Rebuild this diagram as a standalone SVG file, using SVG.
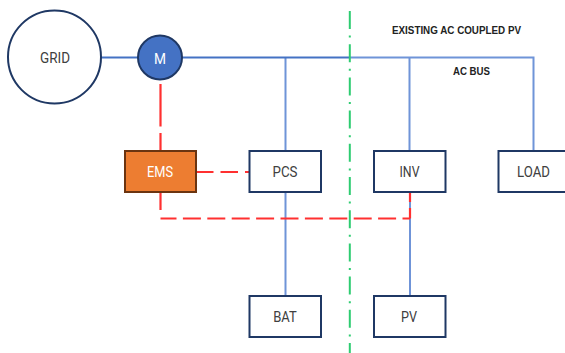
<svg xmlns="http://www.w3.org/2000/svg" width="565" height="353" viewBox="0 0 565 353">
<style>
text{font-family:"Roboto","Liberation Sans",sans-serif;font-size:15.500px;text-anchor:middle;fill:#404040}
.n{fill:#fff;stroke:#1f3864;stroke-width:2}
.b{fill:none;stroke:#4472c4;stroke-width:2.200}
.b2{fill:none;stroke:#6f94d8;stroke-width:2}
.r{fill:none;stroke:#ff3030;stroke-width:2.200}
.l{font-size:11px;font-weight:bold;font-family:"Liberation Sans",sans-serif;fill:#222}
</style>
<rect width="565" height="353" fill="#fff"/>
<g id="connectors">
<path class="b2" d="M350 57.500H533.500V151M285.500 57.500V151M409.500 57.500V151M285.500 192V296M410 192V296"/>
<path class="b" d="M101 57.500H138M182 57.500H350"/>
<path class="r" d="M160.500 84V126.500M160.500 133V151"/>
<path class="r" stroke-dasharray="17.500 7" d="M196 172H249.500"/>
<path class="r" d="M160.500 192V210M410 192V202M410 208V218.500"/>
<path class="r" stroke-dasharray="18 6.400" stroke-dashoffset="2" d="M160.500 218.500H410"/>
<path fill="none" stroke="#2ecc71" stroke-width="2" stroke-dasharray="18 6.600 2 6.600" d="M349.800 11V353"/>
</g>
<g id="grid"><circle class="n" cx="54.500" cy="57" r="46.500"/><text x="55" y="63" textLength="30" lengthAdjust="spacingAndGlyphs">GRID</text></g>
<g id="m"><circle cx="160" cy="57.500" r="22" fill="#4472c4" stroke="#1f3864" stroke-width="2"/><text x="160" y="64" textLength="12" lengthAdjust="spacingAndGlyphs" style="fill:#fff">M</text></g>
<g id="ems"><rect x="125" y="151" width="71" height="41" fill="#ed7d31" stroke="#6b3410" stroke-width="2"/><text x="160" y="177" textLength="26" lengthAdjust="spacingAndGlyphs" style="fill:#fff">EMS</text></g>
<g id="pcs"><rect class="n" x="249.500" y="151" width="71.500" height="41"/><text x="285" y="177" textLength="25" lengthAdjust="spacingAndGlyphs">PCS</text></g>
<g id="inv"><rect class="n" x="374" y="151" width="71.500" height="41"/><text x="409.500" y="177" textLength="20" lengthAdjust="spacingAndGlyphs">INV</text></g>
<g id="load"><rect class="n" x="498.500" y="151" width="71.500" height="41"/><text x="533.500" y="177" textLength="33" lengthAdjust="spacingAndGlyphs">LOAD</text></g>
<g id="bat"><rect class="n" x="249.500" y="296" width="71.500" height="41"/><text x="285" y="322" textLength="23.500" lengthAdjust="spacingAndGlyphs">BAT</text></g>
<g id="pv"><rect class="n" x="374" y="296" width="71.500" height="41"/><text x="409" y="322" textLength="16" lengthAdjust="spacingAndGlyphs">PV</text></g>
<text class="l" x="456.500" y="33.500" textLength="129" lengthAdjust="spacingAndGlyphs">EXISTING AC COUPLED PV</text>
<text class="l" x="471.500" y="75" textLength="37" lengthAdjust="spacingAndGlyphs">AC BUS</text>
</svg>
